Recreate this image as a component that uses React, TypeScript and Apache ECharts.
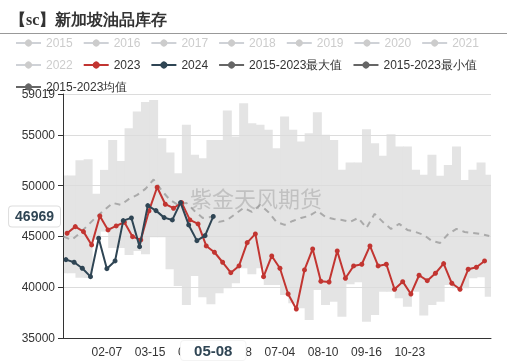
import React, { useEffect, useRef } from 'react';
import * as echarts from 'echarts';

// ---- categories: every day of a (leap) year as MM-DD ----
const MONTH_LENGTHS = [31, 29, 31, 30, 31, 30, 31, 31, 30, 31, 30, 31];
const DAYS: string[] = [];
MONTH_LENGTHS.forEach((n, m) => {
  for (let d = 1; d <= n; d++) {
    DAYS.push(String(m + 1).padStart(2, '0') + '-' + String(d).padStart(2, '0'));
  }
});

const HIDDEN_YEARS = ['2015', '2016', '2017', '2018', '2019', '2020', '2021', '2022'];

// weekly reading days (index of first reading in DAYS, then every 7 days)
const START_2023 = 3; // 01-04
const START_2024 = 2; // 01-03
const START_BAND = 0; // 01-01
const WEEK = 7;

const values2023 = [
  45313, 45963, 45470, 44160, 47017, 45638, 46032, 46396, 44978, 44653,
  47510, 49844, 48169, 47775, 48327, 46623, 46229, 44062, 43441, 42456,
  41432, 42092, 44387, 45244, 41038, 43077, 41865, 39334, 37857, 41698,
  43767, 40585, 40516, 43570, 40880, 42092, 42259, 44062, 42092, 42259,
  39797, 40546, 39334, 41176, 40644, 41373, 42319, 40388, 39797, 41767,
  41964, 42585,
];

const values2024 = [
  42713, 42456, 41865, 41038, 44820, 41826, 42585, 46554, 46820, 43993,
  48032, 47539, 46850, 46623, 48327, 46130, 44584, 45077, 46969,
];

const maxValues = [
  51000, 51000, 52500, 52600, 49200, 51550, 54500, 52430, 55650, 57300,
  58220, 58440, 54670, 53250, 51220, 55980, 53030, 52700, 54500, 54500,
  57390, 54830, 58120, 56150, 55980, 55490, 53690, 56800, 55490, 54340,
  55160, 57230, 55000, 54500, 51550, 52270, 52270, 55560, 54180, 52930,
  55060, 53840, 53840, 51550, 51060, 53030, 50960, 52040, 53840, 50560,
  51550, 52270, 51060,
];

const minValues = [
  41370, 41370, 40940, 40900, 44650, 45470, 43870, 43870, 43175, 43570,
  43240, 44920, 44920, 41770, 40120, 38250, 41100, 39000, 38320, 39400,
  39900, 40390, 41870, 41270, 41870, 40220, 40220, 39240, 38420, 37930,
  36770, 39730, 38250, 38580, 37100, 40290, 40490, 36610, 37270, 39560,
  39560, 38910, 38080, 39560, 37210, 38250, 38580, 40220, 39900, 39900,
  40880, 40980, 39070,
];

const meanValues = [
  44980, 44650, 45340, 46130, 46920, 47600, 48300, 48100, 48690, 49090,
  49680, 50600, 49500, 48590, 48100, 48300, 47510, 46820, 46920, 46430,
  46620, 47220, 47810, 47410, 48100, 47410, 46430, 46130, 46520, 46820,
  47020, 47510, 46920, 46720, 46620, 46430, 46820, 45830, 47220, 46430,
  45740, 46230, 45640, 45440, 45150, 44550, 44360, 45240, 45740, 45440,
  45340, 45240, 45050,
];

const Y_TICKS = { min: 35000, max: 59019, interval: 5000 };
const POINTER_DAY = '05-08';
const POINTER_VALUE = 46969;

const dayOf = (start: number, i: number) => Math.min(start + i * WEEK, DAYS.length - 1);
const weekly = (start: number, vals: number[]) => vals.map((v, i) => [DAYS[dayOf(start, i)], v]);

export default function App() {
  const ref = useRef<HTMLDivElement>(null);
  useEffect(() => {
    if (!ref.current) return;
    const chart = echarts.init(ref.current, undefined, { renderer: 'svg' });
    const GREY = '#666';
    const legendNames = [
      ...HIDDEN_YEARS, '2023', '2024', '2015-2023最大值', '2015-2023最小值', '2015-2023均值',
    ];
    const selected: Record<string, boolean> = {};
    HIDDEN_YEARS.forEach((y) => (selected[y] = false));

    const bandData = minValues.map((lo, i) => [dayOf(START_BAND, i), lo, maxValues[i]]);

    const option: any = {
      animation: false,
      color: ['#c23531', '#2f4554', '#61a0a8', '#d48265', '#91c7ae', '#749f83', '#ca8622', '#bda29a', '#6e7074', '#546570'],
      title: {
        text: '【sc】新加坡油品库存',
        left: 5,
        top: 6,
        textStyle: { fontSize: 16, fontWeight: 'bold', color: '#333', fontFamily: 'serif' },
      },
      graphic: [
        { type: 'line', shape: { x1: 0, y1: 33.5, x2: 507, y2: 33.5 }, style: { stroke: '#999', lineWidth: 1 }, z: 10 },
        {
          type: 'text', x: 256, y: 197, z: 100,
          style: {
            text: '紫金天风期货', fill: 'rgba(150,150,150,0.45)', fontSize: 22,
            fontFamily: 'Noto Sans CJK SC', textAlign: 'center', textVerticalAlign: 'middle',
          },
        },
      ],
      legend: {
        left: 10,
        top: 32,
        right: 8,
        itemWidth: 25,
        itemHeight: 9,
        itemGap: 10,
        textStyle: { fontSize: 12, color: '#333' },
        inactiveColor: '#ccc',
        selected,
        data: legendNames.map((n) =>
          n.startsWith('2015-2023')
            ? { name: n, itemStyle: { color: GREY, opacity: 1 }, lineStyle: { color: GREY, width: 2, opacity: 1, type: 'solid' } }
            : { name: n }
        ),
      },
      grid: { left: 63, right: 16, top: 94, bottom: 24, containLabel: false },
      xAxis: {
        type: 'category',
        data: DAYS,
        boundaryGap: true,
        axisLine: { lineStyle: { color: '#333' } },
        axisTick: { interval: (i: number) => i % 37 === 0 && i > 0 && i < 300 },
        axisLabel: {
          interval: (i: number) => i % 37 === 0 && i > 0 && i < 300,
          color: '#333',
          fontSize: 12,
        },
        splitLine: { show: false },
        axisPointer: {
          show: true,
          status: 'show',
          value: DAYS.indexOf(POINTER_DAY),
          type: 'line',
          lineStyle: { opacity: 0 },
          label: {
            show: true,
            backgroundColor: '#fff',
            color: '#2f4554',
            fontWeight: 'bold',
            fontSize: 15,
            padding: [2, 13],
            borderColor: '#f4f4f4',
            borderWidth: 1,
            shadowBlur: 0,
          },
        },
      },
      yAxis: {
        type: 'value',
        min: Y_TICKS.min,
        max: Y_TICKS.max,
        interval: Y_TICKS.interval,
        axisLine: { show: true, lineStyle: { color: '#333' } },
        axisTick: { show: true },
        axisLabel: { color: '#333', fontSize: 12, formatter: (v: number) => String(Math.round(v)) },
        splitLine: { lineStyle: { color: '#dcdcdc' } },
        axisPointer: {
          show: true,
          status: 'show',
          value: POINTER_VALUE,
          type: 'line',
          lineStyle: { opacity: 0 },
          label: {
            show: true,
            backgroundColor: '#fff',
            color: '#2f4554',
            fontWeight: 'bold',
            fontSize: 14,
            padding: [3, 6],
            borderColor: '#ddd',
            borderWidth: 1,
            shadowBlur: 0,
            formatter: (p: any) => String(Math.round(p.value)),
          },
        },
      },
      series: [
        ...HIDDEN_YEARS.map((y) => ({
          name: y, type: 'line', symbol: 'circle', data: [] as any[], itemStyle: { color: '#ccc' },
        })),
        {
          name: 'band',
          type: 'custom',
          clip: true,
          z: -1,
          silent: true,
          data: bandData,
          encode: { x: 0, y: [1, 2] },
          renderItem: (params: any, api: any) => {
            const x = api.value(0);
            const lo = api.coord([x, api.value(1)]);
            const hi = api.coord([x, api.value(2)]);
            const w = api.size([1, 0])[0] * WEEK;
            return {
              type: 'rect',
              shape: { x: hi[0] - w / 2 - 0.4, y: hi[1], width: w + 0.8, height: lo[1] - hi[1] },
              style: { fill: '#e4e4e4' },
            };
          },
        },
        {
          name: '2015-2023最小值',
          type: 'line',
          symbol: 'none',
          data: weekly(START_BAND, minValues),
          itemStyle: { color: GREY },
          lineStyle: { width: 0, opacity: 0 },
          silent: true,
        },
        {
          name: '2015-2023最大值',
          type: 'line',
          symbol: 'none',
          data: weekly(START_BAND, maxValues),
          itemStyle: { color: GREY },
          lineStyle: { width: 0, opacity: 0 },
          silent: true,
        },
        {
          name: '2015-2023均值',
          type: 'line',
          symbol: 'none',
          data: weekly(START_BAND, meanValues),
          itemStyle: { color: GREY },
          lineStyle: { color: '#aaa', width: 2, type: [6, 5] },
          z: 2,
        },
        {
          name: '2023',
          type: 'line',
          symbol: 'circle',
          symbolSize: 5,
          showAllSymbol: true,
          data: weekly(START_2023, values2023),
          itemStyle: { color: '#c23531' },
          lineStyle: { color: '#c23531', width: 2 },
          z: 3,
        },
        {
          name: '2024',
          type: 'line',
          symbol: 'circle',
          symbolSize: 5,
          showAllSymbol: true,
          data: weekly(START_2024, values2024),
          itemStyle: { color: '#2f4554' },
          lineStyle: { color: '#2f4554', width: 2 },
          z: 4,
        },
      ],
    };
    chart.setOption(option);
    return () => chart.dispose();
  }, []);
  return <div ref={ref} style={{ position: 'fixed', left: 0, top: 0, width: 507, height: 362 }} />;
}
